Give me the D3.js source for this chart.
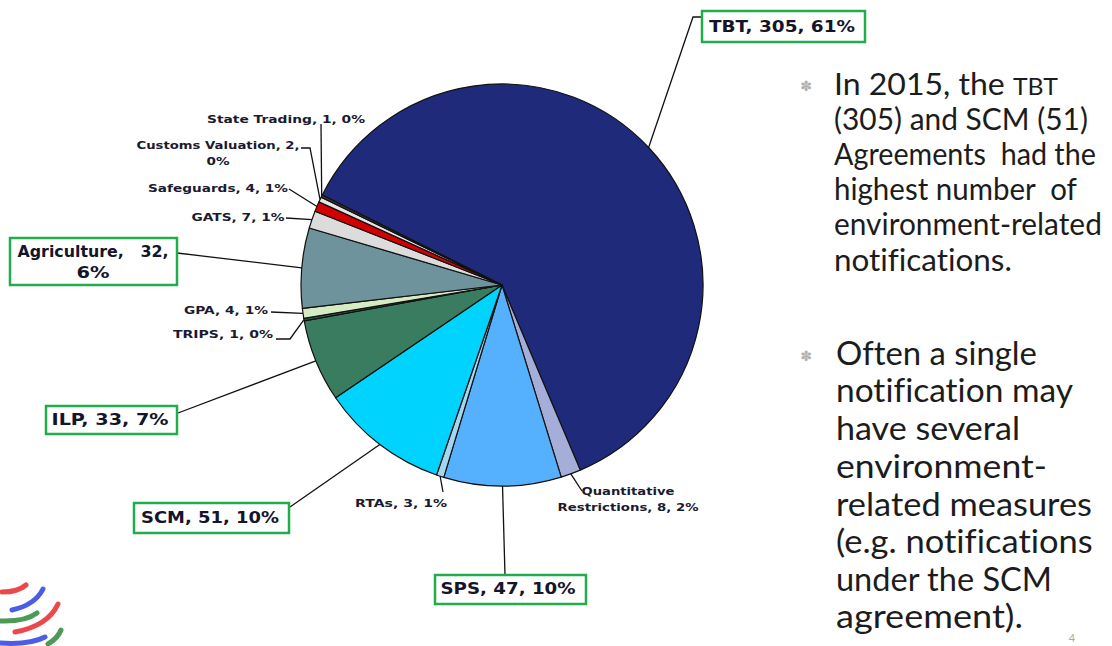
<!DOCTYPE html>
<html>
<head>
<meta charset="utf-8">
<script src="https://cdn.jsdelivr.net/npm/d3@7"></script>
<style>
  body { margin: 0; background: #fff; }
  svg text { white-space: pre; font-variant-ligatures: none; }
</style>
</head>
<body>
<div id="chart"></div>
<script>
// data (clockwise from TBT)
const categories = ["TBT", "Quantitative Restrictions", "SPS", "RTAs", "SCM", "ILP", "TRIPS",
                    "GPA", "Agriculture", "GATS", "Safeguards", "Customs Valuation", "State Trading"];
const counts = [305, 8, 47, 3, 51, 33, 1, 4, 32, 7, 4, 2, 1];
const shares = ["61%", "2%", "10%", "1%", "10%", "7%", "0%", "1%", "6%", "1%", "1%", "0%", "0%"];
const colors = ["#1f2a7b", "#a5add9", "#55b0fd", "#a6d6ef", "#00d3fe", "#3a7c60", "#2e5e48",
                "#d6ebc3", "#6e939d", "#dcdcdc", "#d40000", "#e6e6e6", "#333333"];
const highlighted = ["TBT", "SPS", "SCM", "ILP", "Agriculture"];

const bullet1 = [["In 2015, the ", "TBT"], ["(305) and SCM (51)"], ["Agreements  had the"],
                 ["highest number  of"], ["environment-related"], ["notifications."]];
const bullet2 = ["Often a single", "notification may", "have several", "environment-",
                 "related measures", "(e.g. notifications", "under the SCM", "agreement)."];

const width = 1112, height = 646;
const cx = 502, cy = 285, radius = 201;
const startDeg = -63.4;

// label placement: text lines, centre x, baselines, fitted widths, label-side leader points, box
const labelLayout = {
  "TBT": {lines: ["TBT, 305, 61%"], x: 782, y: [32], w: [146], leader: [[702, 17], [693, 17]], box: [702, 11, 163, 31]},
  "Quantitative Restrictions": {lines: ["Quantitative", "Restrictions, 8, 2%"], x: 628, y: [495, 511], w: [93, 141], leader: [[582, 491]]},
  "SPS": {lines: ["SPS, 47, 10%"], x: 508, y: [594], w: [135], leader: [[505, 575]], box: [435, 575, 151, 29]},
  "RTAs": {lines: ["RTAs, 3, 1%"], x: 401, y: [507], w: [92], leader: [[443, 492]]},
  "SCM": {lines: ["SCM, 51, 10%"], x: 210, y: [523], w: [138], leader: [[290, 507]], box: [134, 503, 155, 30]},
  "ILP": {lines: ["ILP, 33, 7%"], x: 110, y: [425], w: [117], leader: [[178, 413]], box: [46, 406, 131, 28]},
  "TRIPS": {lines: ["TRIPS, 1, 0%"], x: 223, y: [338], w: [100], leader: [[276, 339], [290, 339]]},
  "GPA": {lines: ["GPA, 4, 1%"], x: 226, y: [314], w: [84], leader: [[271, 312]]},
  "Agriculture": {lines: ["Agriculture,   32,", "6%"], x: 93, y: [257, 278], w: [151, 33], leader: [[177, 253]], box: [10, 238, 167, 47]},
  "GATS": {lines: ["GATS, 7, 1%"], x: 238, y: [221], w: [93], leader: [[286, 218]]},
  "Safeguards": {lines: ["Safeguards, 4, 1%"], x: 218, y: [192], w: [140], leader: [[289, 189]]},
  "Customs Valuation": {lines: ["Customs Valuation, 2,", "0%"], x: 218, y: [149, 165], w: [163, 23], leader: [[301, 148], [310, 148]]},
  "State Trading": {lines: ["State Trading, 1, 0%"], x: 286, y: [123], w: [158], leader: [[321, 124]]}
};

const data = categories.map((c, i) => ({name: c, count: counts[i], share: shares[i], color: colors[i]}));

const svg = d3.select("#chart").append("svg")
  .attr("width", width)
  .attr("height", height)
  .attr("viewBox", [0, 0, width, height]);

const pie = d3.pie()
  .value(d => d.count)
  .sort(null)
  .startAngle(startDeg * Math.PI / 180)
  .endAngle(startDeg * Math.PI / 180 + 2 * Math.PI);

const arc = d3.arc().innerRadius(0).outerRadius(radius);
const edge = d3.arc().innerRadius(radius).outerRadius(radius);
const arcs = pie(data);

const g = svg.append("g").attr("transform", `translate(${cx},${cy})`);

g.selectAll("path.slice")
  .data(arcs)
  .enter().append("path")
  .attr("class", "slice")
  .attr("d", arc)
  .attr("fill", d => d.data.color)
  .attr("stroke", "#111")
  .attr("stroke-width", 1.2)
  .attr("stroke-linejoin", "round");

// leader lines
const line = d3.line();
svg.selectAll("path.leader")
  .data(arcs)
  .enter().append("path")
  .attr("class", "leader")
  .attr("d", d => {
    const p = edge.centroid(d);
    const pts = labelLayout[d.data.name].leader.concat([[p[0] + cx, p[1] + cy]]);
    return line(pts);
  })
  .attr("fill", "none")
  .attr("stroke", "#111")
  .attr("stroke-width", 1.3);

// boxes for highlighted agreements
svg.selectAll("rect.box")
  .data(data.filter(d => highlighted.includes(d.name)))
  .enter().append("rect")
  .attr("class", "box")
  .attr("x", d => labelLayout[d.name].box[0])
  .attr("y", d => labelLayout[d.name].box[1])
  .attr("width", d => labelLayout[d.name].box[2])
  .attr("height", d => labelLayout[d.name].box[3])
  .attr("fill", "#fff")
  .attr("stroke", "#22ad4c")
  .attr("stroke-width", 2.5);

// data labels
data.forEach(d => {
  const L = labelLayout[d.name];
  const big = highlighted.includes(d.name);
  L.lines.forEach((t, i) => {
    svg.append("text")
      .attr("x", L.x)
      .attr("y", L.y[i])
      .attr("text-anchor", "middle")
      .attr("font-family", "DejaVu Sans, Verdana, sans-serif")
      .attr("font-weight", "bold")
      .attr("font-size", big ? 15 : 10.5)
      .attr("fill", big ? "#15152a" : "#1a1a30")
      .attr("textLength", L.w[i])
      .attr("lengthAdjust", "spacingAndGlyphs")
      .text(t);
  });
});

// right-hand commentary: each line squeezed to the slide's width with a scale transform
const textColor = "#1c1c1c";
const fitLine = (x, y, w, size, build) => {
  const t = svg.append("text")
    .attr("font-family", "Lato, 'Open Sans', sans-serif")
    .attr("font-size", size)
    .attr("fill", textColor);
  build(t);
  const natural = t.node().getComputedTextLength();
  t.attr("transform", `translate(${x},${y}) scale(${w / natural},1)`);
};

const b1y = [95, 130, 165, 200, 235, 271], b1w = [224, 254, 262, 243, 268, 178];
bullet1.forEach((parts, i) => {
  fitLine(834, b1y[i], b1w[i], 31, t => {
    t.append("tspan").text(parts[0]);
    if (parts[1]) t.append("tspan").attr("font-size", 24).text(parts[1]);
  });
});

const b2y = [365, 402, 440, 478, 516, 553, 591, 628], b2w = [201, 237, 184, 211, 256, 257, 216, 187];
bullet2.forEach((s, i) => {
  fitLine(836, b2y[i], b2w[i], 32, t => t.text(s));
});

// bullet glyphs
[91, 361].forEach(y => {
  svg.append("text")
    .attr("x", 806).attr("y", y)
    .attr("text-anchor", "middle")
    .attr("font-family", "DejaVu Sans")
    .attr("font-size", 14)
    .attr("fill", "#b0b0b0")
    .text("\u273D");
});

// slide number
svg.append("text")
  .attr("x", 1072).attr("y", 642)
  .attr("text-anchor", "middle")
  .attr("font-family", "Lato, sans-serif")
  .attr("font-size", 11)
  .attr("fill", "#aaa")
  .text("4");

// WTO logo stripes, bottom-left corner
const stripes = [
  ["M2 592 Q18 592 26 585", "#e8282b"],
  ["M12 610 Q35 605 43 589", "#2b3fe0"],
  ["M0 621 Q25 622 37 613", "#2c8a3a"],
  ["M15 632 Q48 626 58 604", "#e8282b"],
  ["M0 643 Q30 645 45 637", "#2b3fe0"],
  ["M48 644 Q58 638 61 630", "#2c8a3a"]
];
svg.append("g").selectAll("path")
  .data(stripes)
  .enter().append("path")
  .attr("d", d => d[0])
  .attr("fill", "none")
  .attr("stroke", d => d[1])
  .attr("stroke-width", 5)
  .attr("stroke-linecap", "round")
  .attr("opacity", 0.85);
</script>
</body>
</html>
